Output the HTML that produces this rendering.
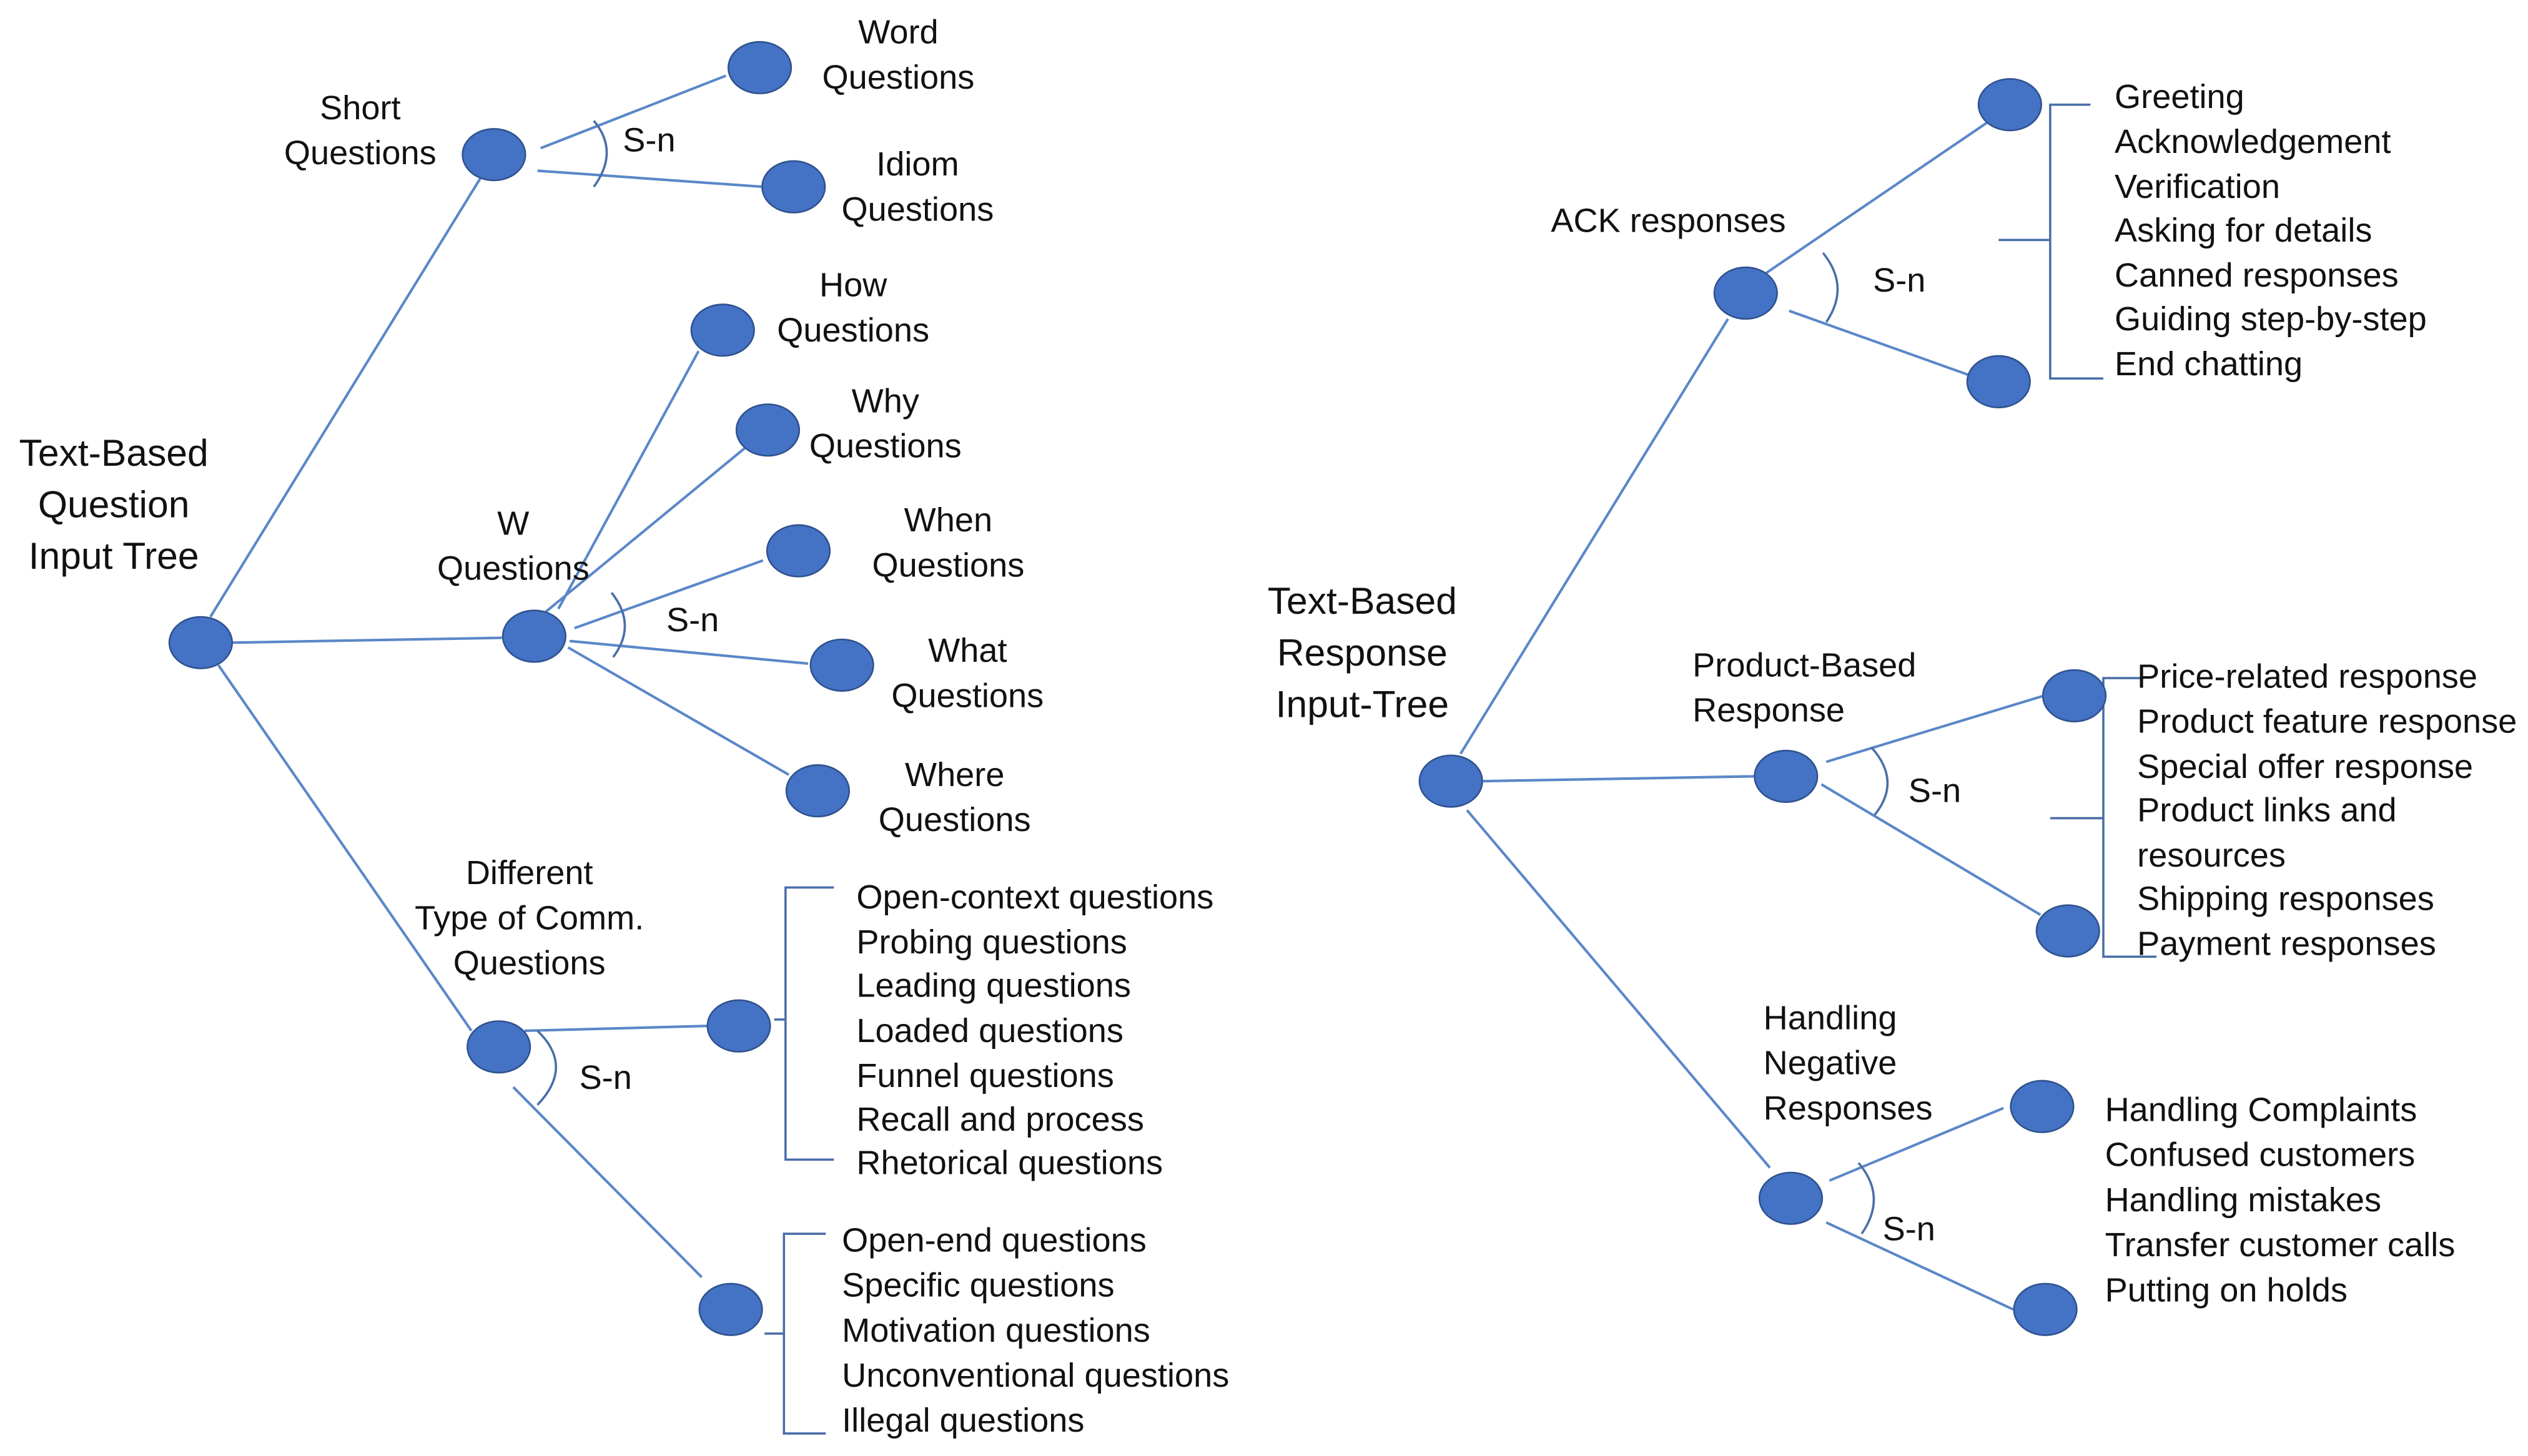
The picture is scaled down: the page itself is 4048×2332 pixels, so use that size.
<!DOCTYPE html>
<html><head><meta charset="utf-8"><style>
html,body{margin:0;padding:0;background:#fff;}
svg{display:block;}
text{font-family:"Liberation Sans",sans-serif;font-size:21px;fill:#111;dominant-baseline:central;}
.t{font-size:23.5px;text-anchor:middle;}
.c{text-anchor:middle;}
.l{stroke:#5B87C8;stroke-width:1.6;fill:none;}
.b{stroke:#4A6FA8;stroke-width:1.4;fill:none;}
ellipse{fill:#4472C4;stroke:#2F528F;stroke-width:1;}
</style></head><body>
<svg width="4048" height="2332" viewBox="0 0 1568 904" xmlns="http://www.w3.org/2000/svg">
<!-- LEFT TREE -->
<text class="t" x="70" y="281">Text-Based</text>
<text class="t" x="70" y="313">Question</text>
<text class="t" x="70" y="345">Input Tree</text>

<line class="l" x1="130" y1="383" x2="298" y2="110"/>
<line class="l" x1="144" y1="399" x2="311" y2="396"/>
<line class="l" x1="135" y1="413" x2="292" y2="640"/>

<line class="l" x1="335" y1="92" x2="450" y2="47"/>
<line class="l" x1="333" y1="106" x2="473" y2="116"/>
<path class="b" d="M368,75 Q384,94 368,116"/>
<text x="386" y="87">S-n</text>
<text class="c" x="223" y="67">Short</text>
<text class="c" x="223" y="95">Questions</text>
<text class="c" x="557" y="20">Word</text>
<text class="c" x="557" y="48">Questions</text>
<text class="c" x="569" y="102">Idiom</text>
<text class="c" x="569" y="130">Questions</text>

<line class="l" x1="346" y1="378" x2="433" y2="218"/>
<line class="l" x1="338" y1="380" x2="462" y2="278"/>
<line class="l" x1="356" y1="390" x2="473" y2="348"/>
<line class="l" x1="353" y1="398" x2="501" y2="412"/>
<line class="l" x1="352" y1="402" x2="489" y2="481"/>
<path class="b" d="M379,368 Q395,388 380,408"/>
<text x="413" y="385">S-n</text>
<text class="c" x="318" y="325">W</text>
<text class="c" x="318" y="353">Questions</text>
<text class="c" x="529" y="177">How</text>
<text class="c" x="529" y="205">Questions</text>
<text class="c" x="549" y="249">Why</text>
<text class="c" x="549" y="277">Questions</text>
<text class="c" x="588" y="323">When</text>
<text class="c" x="588" y="351">Questions</text>
<text class="c" x="600" y="404">What</text>
<text class="c" x="600" y="432">Questions</text>
<text class="c" x="592" y="481">Where</text>
<text class="c" x="592" y="509">Questions</text>

<line class="l" x1="325" y1="640" x2="438" y2="637"/>
<line class="l" x1="318" y1="675" x2="435" y2="793"/>
<path class="b" d="M333,640 Q356,662 333,686"/>
<text x="359" y="669">S-n</text>
<text class="c" x="328" y="542">Different</text>
<text class="c" x="328" y="570">Type of Comm.</text>
<text class="c" x="328" y="598">Questions</text>

<path class="b" d="M517,551 H487 V720 H517 M480,633 H487"/>
<text x="531" y="557">Open-context questions</text>
<text x="531" y="585">Probing questions</text>
<text x="531" y="612">Leading questions</text>
<text x="531" y="640">Loaded questions</text>
<text x="531" y="668">Funnel questions</text>
<text x="531" y="695">Recall and process</text>
<text x="531" y="722">Rhetorical questions</text>

<path class="b" d="M512,766 H486 V890 H512 M474,828 H486"/>
<text x="522" y="770">Open-end questions</text>
<text x="522" y="798">Specific questions</text>
<text x="522" y="826">Motivation questions</text>
<text x="522" y="854">Unconventional questions</text>
<text x="522" y="882">Illegal questions</text>

<ellipse cx="124" cy="399" rx="19.5" ry="16"/>
<ellipse cx="306" cy="96" rx="19.5" ry="16"/>
<ellipse cx="471" cy="42" rx="19.5" ry="16"/>
<ellipse cx="492" cy="116" rx="19.5" ry="16"/>
<ellipse cx="331" cy="395" rx="19.5" ry="16"/>
<ellipse cx="448" cy="205" rx="19.5" ry="16"/>
<ellipse cx="476" cy="267" rx="19.5" ry="16"/>
<ellipse cx="495" cy="342" rx="19.5" ry="16"/>
<ellipse cx="522" cy="413" rx="19.5" ry="16"/>
<ellipse cx="507" cy="491" rx="19.5" ry="16"/>
<ellipse cx="309" cy="650" rx="19.5" ry="16"/>
<ellipse cx="458" cy="637" rx="19.5" ry="16"/>
<ellipse cx="453" cy="813" rx="19.5" ry="16"/>

<!-- RIGHT TREE -->
<text class="t" x="845" y="373">Text-Based</text>
<text class="t" x="845" y="405">Response</text>
<text class="t" x="845" y="437">Input-Tree</text>

<line class="l" x1="906" y1="468" x2="1072" y2="198"/>
<line class="l" x1="920" y1="485" x2="1088" y2="482"/>
<line class="l" x1="910" y1="503" x2="1098" y2="725"/>

<line class="l" x1="1095" y1="170" x2="1233" y2="76"/>
<line class="l" x1="1110" y1="193" x2="1222" y2="233"/>
<path class="b" d="M1131,157 Q1148,178 1133,200"/>
<text x="1162" y="174">S-n</text>
<text class="c" x="1035" y="137">ACK responses</text>
<path class="b" d="M1297,65 H1272 V235 H1305 M1240,149 H1272"/>
<text x="1312" y="60">Greeting</text>
<text x="1312" y="88">Acknowledgement</text>
<text x="1312" y="116">Verification</text>
<text x="1312" y="143">Asking for details</text>
<text x="1312" y="171">Canned responses</text>
<text x="1312" y="198">Guiding step-by-step</text>
<text x="1312" y="226">End chatting</text>

<line class="l" x1="1133" y1="473" x2="1268" y2="432"/>
<line class="l" x1="1130" y1="487" x2="1266" y2="568"/>
<path class="b" d="M1161,464 Q1180,485 1163,506"/>
<text x="1184" y="491">S-n</text>
<text x="1050" y="413">Product-Based</text>
<text x="1050" y="441">Response</text>
<path class="b" d="M1330,421 H1305 V594 H1338 M1272,508 H1305"/>
<text x="1326" y="420">Price-related response</text>
<text x="1326" y="448">Product feature response</text>
<text x="1326" y="476">Special offer response</text>
<text x="1326" y="503">Product links and</text>
<text x="1326" y="531">resources</text>
<text x="1326" y="558">Shipping responses</text>
<text x="1326" y="586">Payment responses</text>

<line class="l" x1="1135" y1="733" x2="1243" y2="688"/>
<line class="l" x1="1133" y1="759" x2="1249" y2="813"/>
<path class="b" d="M1153,722 Q1171,743 1155,766"/>
<text x="1168" y="763">S-n</text>
<text x="1094" y="632">Handling</text>
<text x="1094" y="660">Negative</text>
<text x="1094" y="688">Responses</text>
<text x="1306" y="689">Handling Complaints</text>
<text x="1306" y="717">Confused customers</text>
<text x="1306" y="745">Handling mistakes</text>
<text x="1306" y="773">Transfer customer calls</text>
<text x="1306" y="801">Putting on holds</text>

<ellipse cx="900" cy="485" rx="19.5" ry="16"/>
<ellipse cx="1083" cy="182" rx="19.5" ry="16"/>
<ellipse cx="1247" cy="65" rx="19.5" ry="16"/>
<ellipse cx="1240" cy="237" rx="19.5" ry="16"/>
<ellipse cx="1108" cy="482" rx="19.5" ry="16"/>
<ellipse cx="1287" cy="432" rx="19.5" ry="16"/>
<ellipse cx="1283" cy="578" rx="19.5" ry="16"/>
<ellipse cx="1111" cy="744" rx="19.5" ry="16"/>
<ellipse cx="1267" cy="687" rx="19.5" ry="16"/>
<ellipse cx="1269" cy="813" rx="19.5" ry="16"/>
</svg>
</body></html>
